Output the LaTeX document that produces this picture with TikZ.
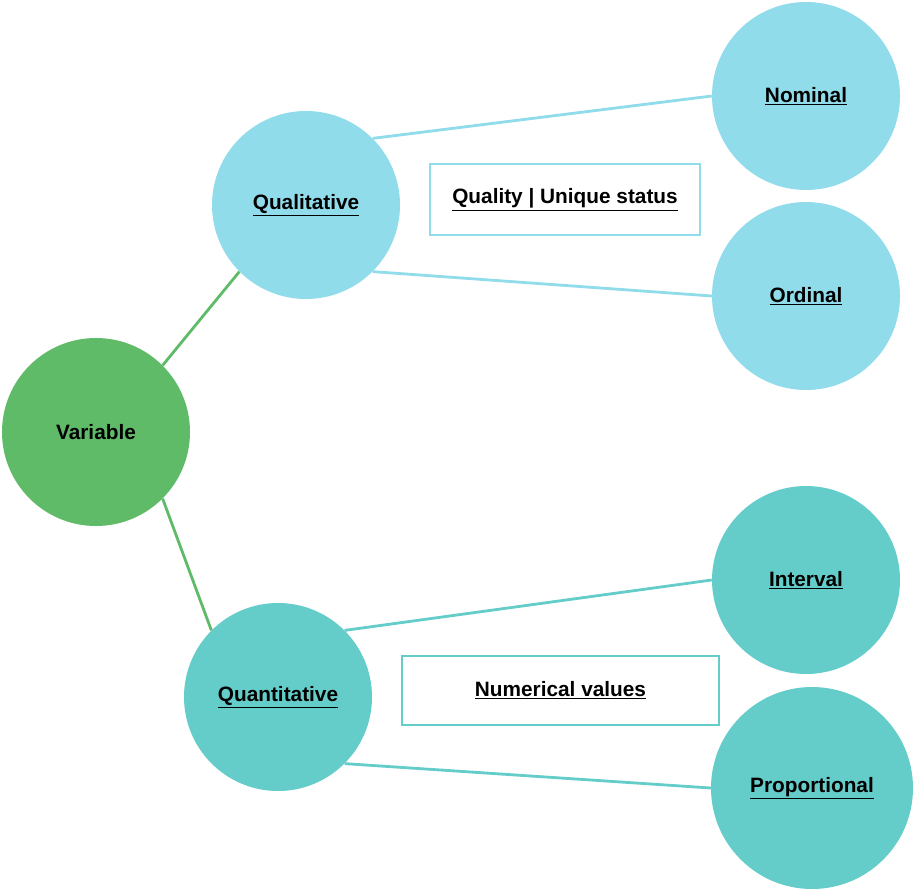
\documentclass[tikz,border=0pt]{standalone}
\usepackage{fontspec}
\setmainfont{Liberation Sans}
\definecolor{cgreen}{RGB}{95,187,104}
\definecolor{clight}{RGB}{145,220,234}
\definecolor{cteal}{RGB}{100,204,201}
\newcommand{\ulab}[1]{\raisebox{-2pt}{\underline{#1}}}
\tikzset{
  bubble/.style={circle, minimum size=188pt, inner sep=0pt, draw=none, font=\bfseries\fontsize{20.8}{25}\selectfont},
  labelbox/.style={rectangle, draw, line width=2.8pt, fill=white, inner sep=0pt, font=\bfseries\fontsize{20.8}{25}\selectfont},
  link/.style={line width=2.8pt}
}
\begin{document}
\begin{tikzpicture}[x=1pt,y=-1pt]
\useasboundingbox (0,0) rectangle (915,893);
\node[bubble, fill=cgreen] (var) at (96,432) {\raisebox{-2pt}{Variable}};
\node[bubble, fill=clight] (qual) at (306,205) {\ulab{Qualitative}};
\node[bubble, fill=cteal] (quant) at (278,697) {\ulab{Quantitative}};
\node[bubble, fill=clight] (nom) at (806,96) {\ulab{Nominal}};
\node[bubble, fill=clight] (ord) at (806,296) {\ulab{Ordinal}};
\node[bubble, fill=cteal] (int) at (806,580) {\ulab{Interval}};
\node[bubble, fill=cteal, minimum size=202pt] (prop) at (812,788) {\ulab{Proportional}};
\node[labelbox, draw=clight, minimum width=270pt, minimum height=71pt] (qbox) at (565,199.5) {\ulab{Quality | Unique status}};
\node[labelbox, draw=cteal, minimum width=317pt, minimum height=69pt] (nbox) at (560.5,690.5) {\ulab{Numerical values}};
\draw[link, cgreen] (var.north east) -- (qual.south west);
\draw[link, cgreen] (var.south east) -- (quant.north west);
\draw[link, clight] (qual.north east) -- (nom.west);
\draw[link, clight] (qual.south east) -- (ord.west);
\draw[link, cteal] (quant.north east) -- (int.west);
\draw[link, cteal] (quant.south east) -- (prop.west);
\end{tikzpicture}
\end{document}
